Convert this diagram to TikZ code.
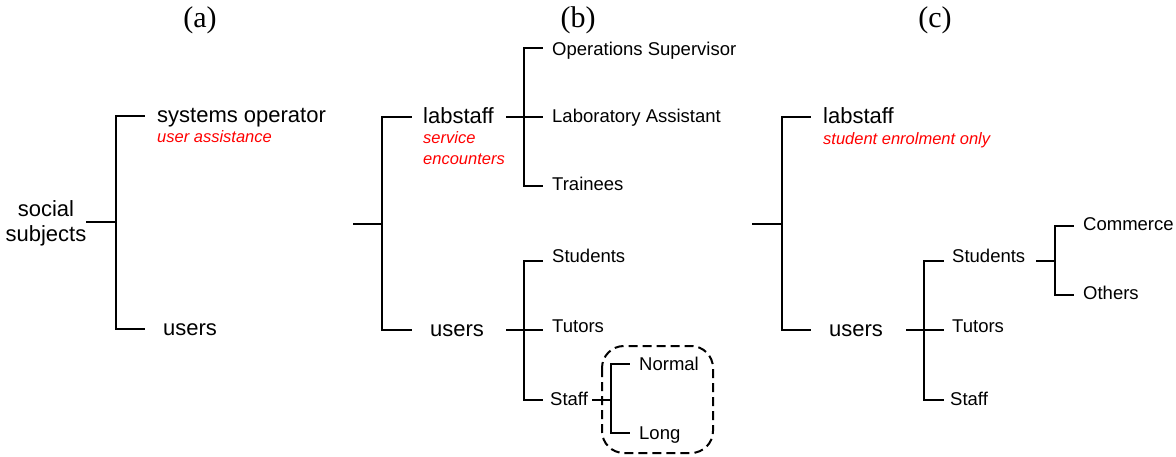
\documentclass[tikz,border=0pt]{standalone}
\usepackage{fontspec}
\setmainfont{Liberation Sans}
\newfontfamily\titlefont{Liberation Serif}
\begin{document}
\begin{tikzpicture}[x=1pt,y=-1pt,
  big/.style={font=\fontsize{22}{25}\selectfont, anchor=base west, inner sep=0pt},
  mid/.style={font=\fontsize{18.5}{22}\selectfont, anchor=base west, inner sep=0pt},
  note/.style={font=\fontsize{16.5}{20}\selectfont\itshape, text=red, anchor=base west, inner sep=0pt},
  ttl/.style={font=\titlefont\fontsize{30}{34}\selectfont, anchor=base, inner sep=0pt},
  conn/.style={line width=1.4pt, line cap=rect},
  dashbox/.style={line width=2pt, dash pattern=on 9pt off 5pt, rounded corners=22pt}]
\useasboundingbox (0,0) rectangle (1176,457);

% titles
\node[ttl] (ta) at (200,28) {(a)};
\node[ttl] (tb) at (578,28) {(b)};
\node[ttl] (tc) at (935,28) {(c)};

% ---------- panel (a)
\node[big,anchor=base] (soc) at (46,217) {social};
\node[big,anchor=base] (subj) at (46,242) {subjects};
\node[big] (sysop) at (157,123) {systems operator};
\node[note] (uassist) at (157,143) {user assistance};
\node[big] (ausers) at (163,335) {users};
\coordinate (aR) at (87,222);
\coordinate (aJ) at (116,222);
\coordinate (aT) at (144,116);
\coordinate (aB) at (144,329);
\draw[conn] (aT) -| (aJ) |- (aB);
\draw[conn] (aR) -- (aJ);

% ---------- panel (b)
\node[big] (blab) at (423,124) {labstaff};
\node[note] (bserv) at (423,144) {service};
\node[note] (benc) at (423,165) {encounters};
\node[mid] (bops) at (552,56) {Operations Supervisor};
\node[mid] (blas) at (552,123) {Laboratory Assistant};
\node[mid] (btra) at (552,191) {Trainees};
\node[big] (busers) at (430,336) {users};
\node[mid] (bstu) at (552,263) {Students};
\node[mid] (btut) at (552,332) {Tutors};
\node[mid] (bsta) at (550,405) {Staff};
\node[mid] (bnor) at (639,370) {Normal};
\node[mid] (blon) at (639,439) {Long};

\coordinate (bR) at (354,224);
\coordinate (bJ) at (382,224);
\coordinate (bT) at (411,117);
\coordinate (bB) at (411,330);
\draw[conn] (bT) -| (bJ) |- (bB);
\draw[conn] (bR) -- (bJ);

\coordinate (bLs) at (507,117);
\coordinate (bLJ) at (524,117);
\coordinate (bOS) at (542,48);
\coordinate (bLA) at (542,117);
\coordinate (bTr) at (542,186);
\draw[conn] (bOS) -| (bLJ) |- (bTr);
\draw[conn] (bLs) -- (bLA);

\coordinate (bUs) at (507,330);
\coordinate (bUJ) at (524,330);
\coordinate (bSt) at (542,261);
\coordinate (bTu) at (542,330);
\coordinate (bSf) at (542,400);
\draw[conn] (bSt) -| (bUJ) |- (bSf);
\draw[conn] (bUs) -- (bTu);

\coordinate (bSfs) at (593,400);
\coordinate (bSfJ) at (611,400);
\coordinate (bNo) at (629,364);
\coordinate (bLo) at (629,433);
\draw[conn] (bNo) -| (bSfJ) |- (bLo);
\draw[conn] (bSfs) -- (bSfJ);

\draw[dashbox] (602,346) rectangle (713,453);

% ---------- panel (c)
\node[big] (clab) at (823,124) {labstaff};
\node[note] (cstud) at (823,145) {student enrolment only};
\node[big] (cusers) at (829,336) {users};
\node[mid] (cstu) at (952,263) {Students};
\node[mid] (ctut) at (952,332) {Tutors};
\node[mid] (csta) at (950,405) {Staff};
\node[mid] (ccom) at (1083,231) {Commerce};
\node[mid] (coth) at (1083,300) {Others};

\coordinate (cR) at (753,224);
\coordinate (cJ) at (782,224);
\coordinate (cT) at (810,117);
\coordinate (cB) at (810,330);
\draw[conn] (cT) -| (cJ) |- (cB);
\draw[conn] (cR) -- (cJ);

\coordinate (cUs) at (907,330);
\coordinate (cUJ) at (924,330);
\coordinate (cSt) at (943,261);
\coordinate (cTu) at (943,330);
\coordinate (cSf) at (943,400);
\draw[conn] (cSt) -| (cUJ) |- (cSf);
\draw[conn] (cUs) -- (cTu);

\coordinate (cSs) at (1037,261);
\coordinate (cSJ) at (1055,261);
\coordinate (cCo) at (1073,226);
\coordinate (cOt) at (1073,295);
\draw[conn] (cCo) -| (cSJ) |- (cOt);
\draw[conn] (cSs) -- (cSJ);
\end{tikzpicture}
\end{document}
